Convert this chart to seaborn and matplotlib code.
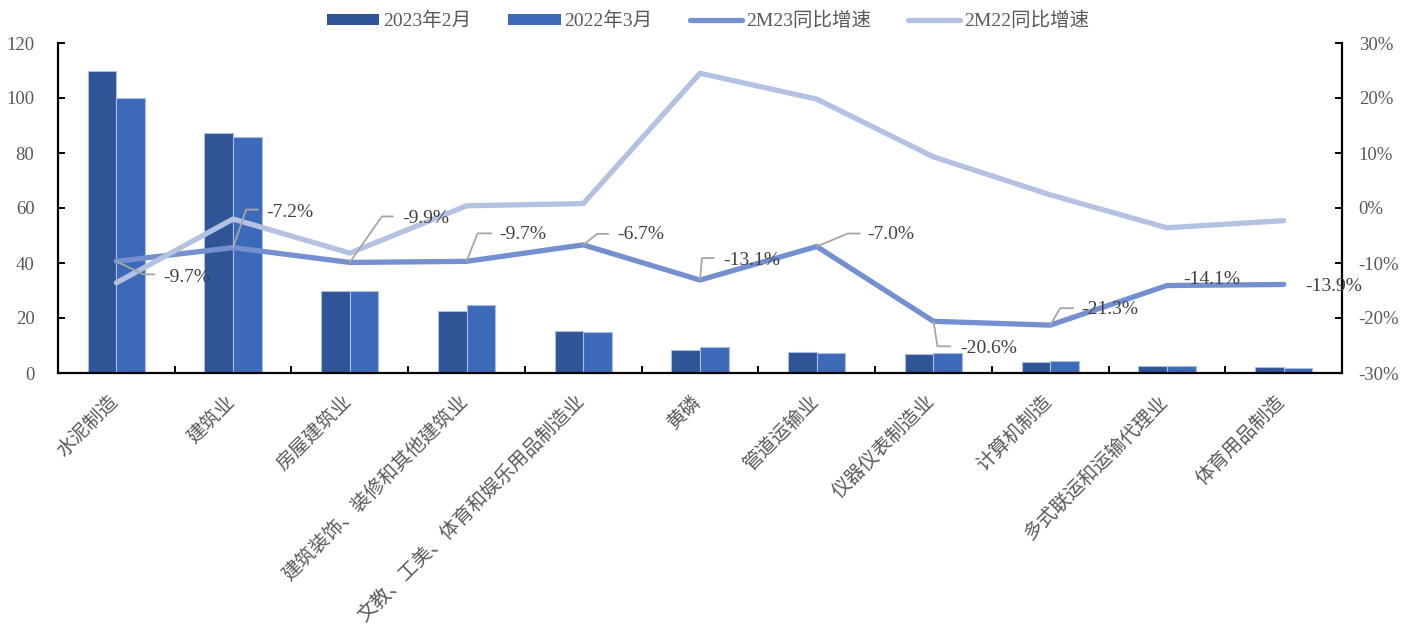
import matplotlib
matplotlib.use("Agg")
import matplotlib.pyplot as plt
import matplotlib.transforms as mtransforms
from matplotlib.lines import Line2D
from matplotlib.patches import Patch
from matplotlib.font_manager import FontProperties
from matplotlib.ticker import FuncFormatter, MultipleLocator, FixedLocator
import numpy as np
import pandas as pd
import seaborn as sns

# ---- data -------------------------------------------------------------
categories = [
    "水泥制造", "建筑业", "房屋建筑业", "建筑装饰、装修和其他建筑业",
    "文教、工美、体育和娱乐用品制造业", "黄磷", "管道运输业",
    "仪器仪表制造业", "计算机制造", "多式联运和运输代理业", "体育用品制造",
]
feb_2023 = [110.0, 87.3, 29.8, 22.6, 15.3, 8.4, 7.6, 6.9, 4.1, 2.5, 2.1]
mar_2022 = [100.0, 85.8, 29.8, 24.7, 14.9, 9.5, 7.3, 7.4, 4.2, 2.4, 2.0]
yoy_2m23 = [-9.7, -7.2, -9.9, -9.7, -6.7, -13.1, -7.0, -20.6, -21.3, -14.1, -13.9]
yoy_2m22 = [-13.6, -2.0, -8.2, 0.4, 0.8, 24.5, 19.8, 9.3, 2.4, -3.6, -2.3]

bar_names = ["2023年2月", "2022年3月"]
line_names = ["2M23同比增速", "2M22同比增速"]

# ---- style ------------------------------------------------------------
sns.set_theme(style="white")
MIXED = ["Liberation Serif", "Noto Sans CJK SC", "DejaVu Sans"]
plt.rcParams["font.family"] = MIXED

C_BAR1 = "#2F5597"
C_BAR2 = "#3D6AB8"
C_LINE1 = "#7490D0"
C_LINE2 = "#B4C2E2"
C_TEXT = "#595959"
C_LABEL = "#404040"
C_LEADER = "#A6A6A6"

DPI = 100
fig = plt.figure(figsize=(14.16, 6.25), dpi=DPI)
ax = fig.add_axes([58 / 1416, 1 - 373 / 625, (1342 - 58) / 1416, (373 - 43) / 625])

# ---- bars -------------------------------------------------------------
bars = pd.DataFrame({
    "category": categories * 2,
    "series": [bar_names[0]] * len(categories) + [bar_names[1]] * len(categories),
    "value": feb_2023 + mar_2022,
})
sns.barplot(data=bars, x="category", y="value", hue="series",
            order=categories, hue_order=bar_names,
            palette=[C_BAR1, C_BAR2], width=0.49, gap=0,
            edgecolor="#A9BCE3", linewidth=0.8, saturation=1,
            legend=False, ax=ax)

ax.set_xlim(-0.5, len(categories) - 0.5)
ax.set_ylim(0, 120)
ax.yaxis.set_major_locator(MultipleLocator(20))
ax.set_xlabel("")
ax.set_ylabel("")

# ---- lines (secondary axis) ------------------------------------------
ax2 = ax.twinx()
xpos = np.arange(len(categories))
lines = pd.DataFrame({
    "x": np.concatenate([xpos, xpos]),
    "series": [line_names[0]] * len(categories) + [line_names[1]] * len(categories),
    "value": yoy_2m23 + yoy_2m22,
})
sns.lineplot(data=lines, x="x", y="value", hue="series", hue_order=line_names,
             palette=[C_LINE1, C_LINE2], linewidth=3.8, legend=False,
             sort=False, ax=ax2)
for ln in ax2.lines:
    ln.set_solid_capstyle("round")
    ln.set_solid_joinstyle("round")
ax2.set_ylim(-30, 30)
ax2.yaxis.set_major_locator(MultipleLocator(10))
ax2.yaxis.set_major_formatter(FuncFormatter(lambda v, _: f"{v:.0f}%"))
ax2.set_xlabel("")
ax2.set_ylabel("")

# ---- axes cosmetics ---------------------------------------------------
for a in (ax, ax2):
    a.spines["top"].set_visible(False)
    for side in ("left", "right", "bottom"):
        a.spines[side].set_color("black")
        a.spines[side].set_linewidth(1.6)
ax.spines["right"].set_visible(False)
ax2.spines["left"].set_visible(False)
ax2.spines["bottom"].set_visible(False)

ax.tick_params(axis="y", direction="in", length=5, width=1.4, color="black",
               labelsize=13.5, labelcolor=C_TEXT, pad=17, left=True)
ax2.tick_params(axis="y", direction="in", length=5, width=1.4, color="black",
                labelsize=13.5, labelcolor=C_TEXT, pad=12, right=True)

# category boundaries carry the tick marks, centres carry the labels
ax.xaxis.set_minor_locator(FixedLocator(np.arange(-0.5, len(categories), 1.0)))
ax.tick_params(axis="x", which="minor", direction="in", length=5, width=1.4,
               color="black", bottom=True)
ax.tick_params(axis="x", which="major", length=0, pad=13, bottom=True)
ax.set_xticks(xpos)
ax.set_xticklabels(categories, rotation=45, ha="right",
                   fontsize=14, color=C_TEXT,
                   family=["Noto Sans CJK SC", "DejaVu Sans"])
shift = mtransforms.ScaledTranslation(6 / DPI, 0, fig.dpi_scale_trans)
for lab in ax.get_xticklabels():
    lab.set_transform(lab.get_transform() + shift)

ax.set_zorder(1)
ax2.set_zorder(2)
ax2.patch.set_visible(False)

# ---- legend -----------------------------------------------------------
handles = [
    Patch(facecolor=C_BAR1, edgecolor="none"),
    Patch(facecolor=C_BAR2, edgecolor="none"),
    Line2D([0], [0], color=C_LINE1, lw=3.8, solid_capstyle="round"),
    Line2D([0], [0], color=C_LINE2, lw=3.8, solid_capstyle="round"),
]
fig.legend(handles, bar_names + line_names, loc="center",
           bbox_to_anchor=(0.5, 1 - 21 / 625), ncol=4, frameon=False,
           prop=FontProperties(family=MIXED, size=14),
           labelcolor=C_TEXT, handlelength=2.7, handleheight=0.47,
           handletextpad=0.2, columnspacing=1.9)

# ---- value labels with leader lines (offsets in pixels, y downward) ---
# (elbow_dx, elbow_dy, end_dx) or None, then (text_dx, text_dy)
leaders = [
    ((27, 13, 38), (47, 16)),
    ((13, -38, 25), (33, -35)),
    ((32, -46, 43), (52, -44)),
    ((11, -28, 25), (33, -27)),
    ((14, -11, 25), (34, -10)),
    ((2, -22, 14), (23, -20)),
    ((31, -13, 43), (51, -12)),
    ((4, 25, 17), (27, 27)),
    ((10, -17, 23), (31, -16)),
    (None, (16, -6)),
    (None, (22, 2)),
]
for i, (val, (leg, (tdx, tdy))) in enumerate(zip(yoy_2m23, leaders)):
    x0, y0 = ax2.transData.transform((i, val))
    if leg is not None:
        ex, ey, endx = leg
        fig.add_artist(Line2D([x0, x0 + ex, x0 + endx], [y0, y0 - ey, y0 - ey],
                              color=C_LEADER, lw=1.3,
                              transform=mtransforms.IdentityTransform(),
                              zorder=5))
    ax2.annotate(f"{val:.1f}%", xy=(i, val), xytext=(tdx, -tdy),
                 textcoords="offset pixels", ha="left", va="center",
                 fontsize=14, color=C_LABEL, family=MIXED, zorder=6)

fig.savefig("out.png", dpi=DPI)
